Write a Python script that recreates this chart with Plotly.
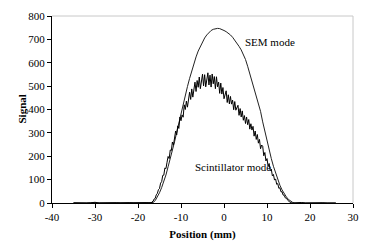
import plotly.graph_objects as go

# SEM mode (smooth)
sem_x = [-35, -30, -25, -20, -17, -16.5, -16, -15.5, -15, -14.5, -14, -13.5, -13, -12.5, -12, -11.5, -11, -10.5,
         -10, -9.5, -9, -8.5, -8, -7.5, -7, -6.5, -6, -5.5, -5, -4.5, -4, -3.5, -3, -2.5, -2, -1.5, -1, -0.5,
         0, 0.5, 1, 1.5, 2, 2.5, 3, 3.5, 4, 4.5, 5, 5.5, 6, 6.5, 7, 7.5, 8, 8.5, 9, 9.5, 10, 10.5, 11, 11.5,
         12, 12.5, 13, 13.5, 14, 14.5, 15, 15.5, 16, 16.5, 18, 20, 22, 24, 26]
sem_y = [0, 0, 0, 0, 0, 2, 10, 25, 44, 66, 90, 120, 155, 188, 224, 262, 302, 343,
         385, 426, 462, 498, 533, 566, 597, 625, 650, 671, 690, 706, 719, 730, 738, 743, 746, 747, 746, 743,
         738, 733, 727, 719, 709, 697, 684, 670, 655, 636, 614, 585, 554, 522, 490, 458, 425, 392, 347, 306,
         265, 226, 190, 157, 127, 100, 76, 56, 40, 26, 15, 7, 2, 0, 0, 0, 0, 0, 0]

# Scintillator mode (noisy)
base_left_x = [-35, -34, -33, -32, -31, -30, -29, -28, -27, -26, -25, -24, -23, -22, -21, -20, -19, -18, -17.5]
base_left_y = [1, 0, 2, 0, 1, 3, 0, 1, 2, 0, 1, 0, 2, 1, 0, 1, 0, 1, 0]
scint_core_x = [-17.0 + 0.25 * i for i in range(133)]
scint_core_y = [0, 5, 7, 17, 20, 35, 41, 57, 62, 85, 91, 118, 119, 150, 147, 174, 199, 190, 227, 224,
                261, 248, 281, 308, 291, 330, 319, 368, 352, 377, 367, 420, 400, 436, 410, 446, 474, 443, 488, 453,
                494, 517, 477, 524, 495, 539, 489, 530, 551, 501, 549, 497, 534, 557, 505, 547, 496, 552, 510, 541,
                489, 540, 497, 517, 469, 513, 466, 494, 446, 472, 480, 430, 463, 424, 456, 423, 440, 399, 434, 397,
                412, 418, 375, 404, 368, 394, 354, 374, 340, 368, 335, 357, 316, 339, 312, 328, 286, 308, 272, 293,
                256, 272, 232, 248, 243, 202, 216, 180, 190, 158, 169, 138, 145, 116, 122, 98, 103, 80, 83, 63,
                65, 48, 48, 34, 33, 22, 20, 11, 9, 4, 4, 1, 0]
base_right_x = [16.5, 17, 18, 19, 20, 21, 22, 23, 24, 25, 26]
base_right_y = [1, 0, 2, 0, 1, 0, 2, 1, 0, 1, 0]

scint_x = base_left_x + scint_core_x + base_right_x
scint_y = base_left_y + scint_core_y + base_right_y

x_ticks = [-40, -30, -20, -10, 0, 10, 20, 30]
y_ticks = [0, 100, 200, 300, 400, 500, 600, 700, 800]

FONT = "Liberation Serif, Times New Roman, serif"

fig = go.Figure()
fig.add_trace(go.Scatter(x=sem_x, y=sem_y, mode="lines",
                         line=dict(color="#222222", width=1), showlegend=False))
fig.add_trace(go.Scatter(x=scint_x, y=scint_y, mode="lines",
                         line=dict(color="#000000", width=1), showlegend=False))

fig.add_annotation(x=4.4, y=688, text="SEM mode", showarrow=False, xanchor="left", yanchor="middle",
                   font=dict(family=FONT, size=11, color="black"))
fig.add_annotation(x=-7.2, y=154, text="Scintillator mode", showarrow=False, xanchor="left", yanchor="middle",
                   font=dict(family=FONT, size=11, color="black"))
fig.add_annotation(xref="paper", yref="paper", x=0, y=0.5, xshift=-31, text="<b>Signal</b>",
                   textangle=-90, showarrow=False, xanchor="center", yanchor="middle",
                   font=dict(family=FONT, size=11, color="black"))

# light grey top and right frame
fig.add_shape(type="line", xref="paper", yref="paper", x0=0, x1=1, y0=1, y1=1,
              line=dict(color="#c8c8c8", width=1))
fig.add_shape(type="line", xref="paper", yref="paper", x0=1, x1=1, y0=0, y1=1,
              line=dict(color="#c8c8c8", width=1))

fig.update_layout(
    width=368, height=246,
    margin=dict(l=44, r=23, t=8, b=51),
    paper_bgcolor="white", plot_bgcolor="white",
    font=dict(family=FONT, size=11, color="black"),
    xaxis=dict(range=[-40, 30], tickvals=x_ticks, ticktext=[str(v) for v in x_ticks],
               showgrid=False, zeroline=False, showline=True, linecolor="black", linewidth=1,
               ticks="outside", ticklen=4, tickcolor="black", automargin=False,
               title=dict(text="<b>Position (mm)</b>", standoff=8, font=dict(family=FONT, size=11))),
    yaxis=dict(range=[0, 800], tickvals=y_ticks, ticktext=[str(v) for v in y_ticks],
               showgrid=False, zeroline=False, showline=True, linecolor="black", linewidth=1,
               ticks="outside", ticklen=4, tickcolor="black", automargin=False),
)

fig.write_html("out.html")
